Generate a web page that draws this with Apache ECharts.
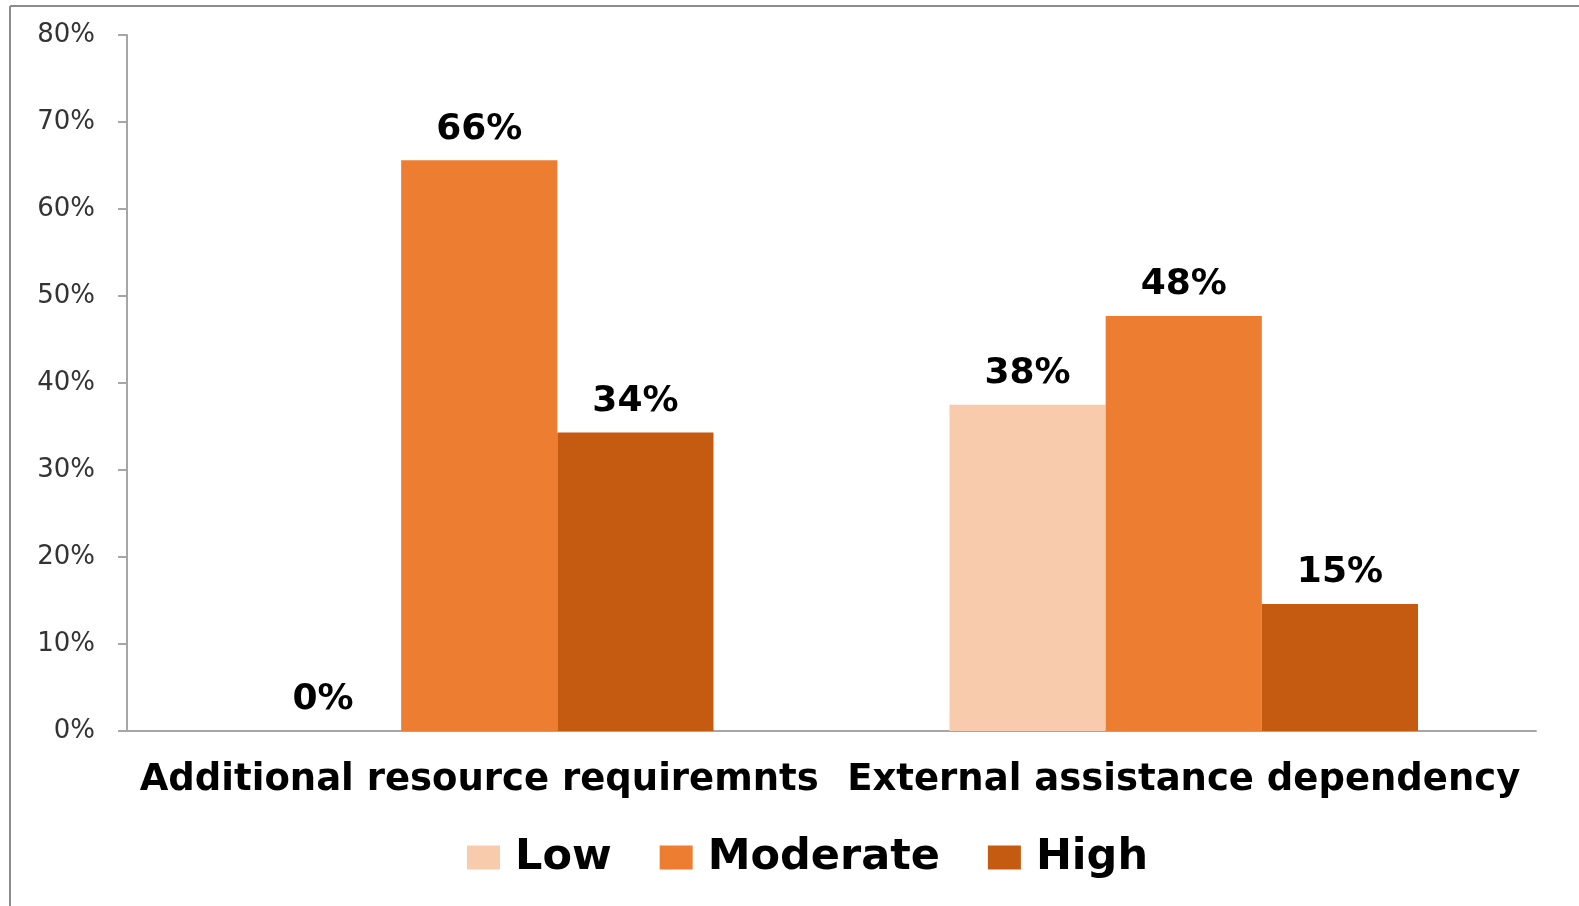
<!DOCTYPE html>
<html>
<head>
<meta charset="utf-8">
<script src="https://cdn.jsdelivr.net/npm/echarts@6/dist/echarts.min.js"></script>
<style>
html,body{margin:0;padding:0;background:#fff;}
#chart{width:1579px;height:906px;}
</style>
</head>
<body>
<div id="chart"></div>
<script>
const categories = ['Additional resource requiremnts', 'External assistance dependency'];
const seriesNames = ['Low', 'Moderate', 'High'];
const lowValues = [0, 0.375];
const moderateValues = [0.656, 0.477];
const highValues = [0.343, 0.146];
const yTicks = [0, 0.1, 0.2, 0.3, 0.4, 0.5, 0.6, 0.7, 0.8];
const colors = ['#F8CBAD', '#ED7D31', '#C55A11'];

const chart = echarts.init(document.getElementById('chart'), null, {renderer: 'canvas'});
const pct = v => Math.round(v * 100) + '%';
const labelCfg = {
  show: true, position: 'top', distance: 13,
  fontFamily: 'DejaVu Sans', fontWeight: 'bold', fontSize: 36, color: '#000',
  formatter: p => pct(p.value)
};
const mk = (name, data, i) => ({
  name, type: 'bar', data, barGap: '0%', barCategoryGap: '33.5%',
  itemStyle: {color: colors[i]}, label: labelCfg
});
chart.setOption({
  animation: false,
  grid: {left: 127, right: 43, top: 35, bottom: 175},
  graphic: [
    {type: 'line', shape: {x1: 10, y1: 6, x2: 1579, y2: 6}, style: {stroke: '#8c8c8c', lineWidth: 2}},
    {type: 'line', shape: {x1: 10, y1: 6, x2: 10, y2: 906}, style: {stroke: '#8c8c8c', lineWidth: 2}}
  ],
  legend: {
    data: seriesNames, left: 462, top: 831, itemWidth: 33, itemHeight: 24, itemGap: 48,
    icon: 'rect',
    textStyle: {fontFamily: 'DejaVu Sans', fontWeight: 'bold', fontSize: 43, color: '#000', padding: [0, 0, 0, 10]}
  },
  xAxis: {
    type: 'category', data: categories,
    axisLine: {lineStyle: {color: '#a6a6a6', width: 2}},
    axisTick: {length: 12, lineStyle: {color: '#a6a6a6', width: 2}},
    axisLabel: {interval: 0, margin: 31, fontFamily: 'DejaVu Sans', fontWeight: 'bold', fontSize: 37, color: '#000'}
  },
  yAxis: {
    type: 'value', min: 0, max: 0.8, interval: 0.1,
    axisLine: {show: true, lineStyle: {color: '#a6a6a6', width: 2}},
    axisTick: {show: true, length: 9, lineStyle: {color: '#a6a6a6', width: 2}},
    splitLine: {show: false},
    axisLabel: {margin: 32, fontFamily: 'DejaVu Sans', fontSize: 26, color: '#333',
      formatter: v => {const t = yTicks.find(x => Math.abs(x - v) < 1e-9); return pct(t === undefined ? v : t);}}
  },
  series: [mk('Low', lowValues, 0), mk('Moderate', moderateValues, 1), mk('High', highValues, 2)]
});
</script>
</body>
</html>
